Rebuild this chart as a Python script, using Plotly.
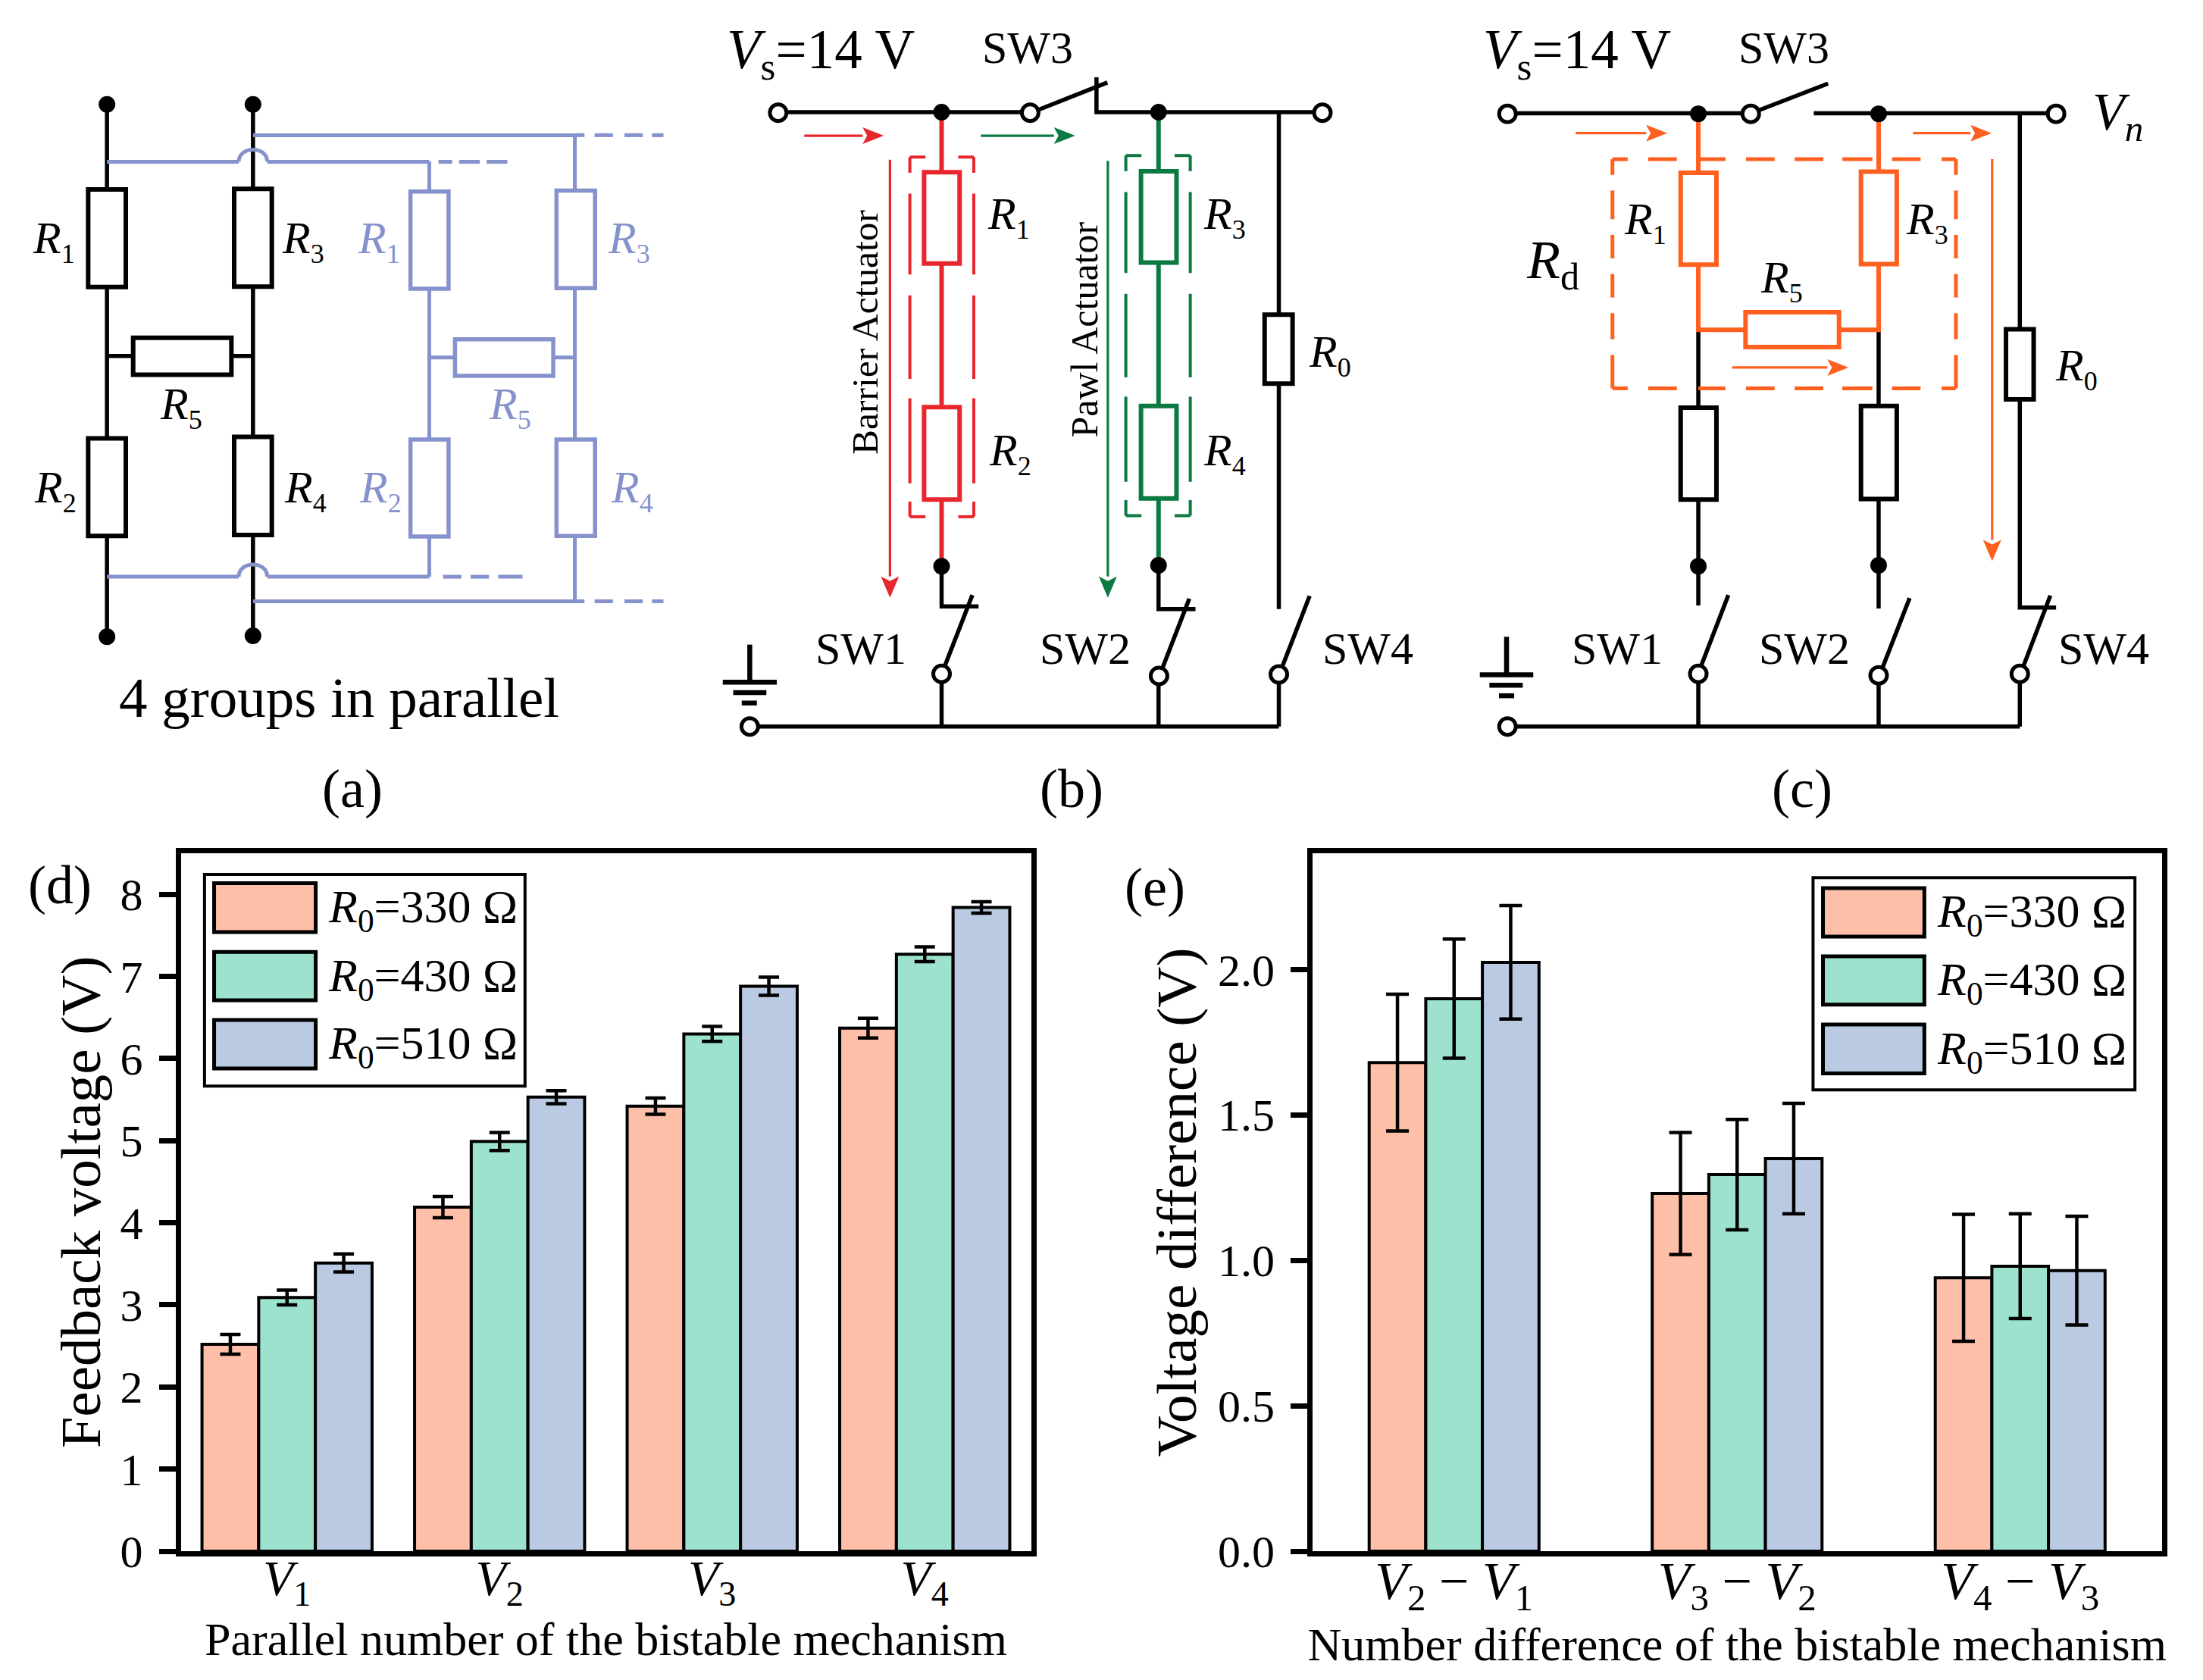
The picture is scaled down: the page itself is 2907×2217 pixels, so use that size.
import plotly.graph_objects as go

W, H = 2907, 2217
FONT = "Liberation Serif"
BLK, BLUE, RED, GRN, ORG = "#000000", "#8592CC", "#E8262D", "#0A7A42", "#FF6020"

# ---------- chart data ----------
series_names = ["R0=330 Ω", "R0=430 Ω", "R0=510 Ω"]
series_labels = ["<i>R</i><sub>0</sub>=330 Ω", "<i>R</i><sub>0</sub>=430 Ω", "<i>R</i><sub>0</sub>=510 Ω"]
colors = ["#FEBFA8", "#9CE2CF", "#BBCAE3"]

cats_d = ["V1", "V2", "V3", "V4"]
ticks_d = ["<i>V</i><sub>1</sub>", "<i>V</i><sub>2</sub>", "<i>V</i><sub>3</sub>", "<i>V</i><sub>4</sub>"]
d_330 = [2.52, 4.19, 5.42, 6.37]
d_430 = [3.09, 4.99, 6.30, 7.27]
d_510 = [3.51, 5.53, 6.88, 7.84]
d_330_err = [0.12, 0.13, 0.10, 0.12]
d_430_err = [0.09, 0.11, 0.09, 0.09]
d_510_err = [0.11, 0.08, 0.11, 0.07]

cats_e = ["V2-V1", "V3-V2", "V4-V3"]
ticks_e = ["<i>V</i><sub>2</sub>\u00a0−\u00a0<i>V</i><sub>1</sub>", "<i>V</i><sub>3</sub>\u00a0−\u00a0<i>V</i><sub>2</sub>", "<i>V</i><sub>4</sub>\u00a0−\u00a0<i>V</i><sub>3</sub>"]
e_330 = [1.68, 1.23, 0.94]
e_430 = [1.90, 1.295, 0.98]
e_510 = [2.025, 1.35, 0.965]
e_330_err = [0.235, 0.21, 0.218]
e_430_err = [0.205, 0.19, 0.18]
e_510_err = [0.195, 0.19, 0.187]

# ---------- panel geometry (pixels) ----------
D_BOX = (238.5, 1126, 1360.5, 2047)
E_BOX = (1732, 1126, 2852.5, 2047)
E_WIDTH = 0.2
E_OFFSETS = [-0.3, -0.1, 0.1]

def xdom(b): return [b[0] / W, b[2] / W]
def ydom(b): return [1 - b[3] / H, 1 - b[1] / H]

fig = go.Figure()
for vals, errs, name, col in zip([d_330, d_430, d_510], [d_330_err, d_430_err, d_510_err], series_names, colors):
    fig.add_bar(x=cats_d, y=vals, name=name, marker=dict(color=col, line=dict(color=BLK, width=4)),
                error_y=dict(type="data", array=errs, color=BLK, thickness=4.5, width=13.5), xaxis="x", yaxis="y",
                showlegend=False)
for vals, errs, name, col, off in zip([e_330, e_430, e_510], [e_330_err, e_430_err, e_510_err], series_names, colors, E_OFFSETS):
    fig.add_bar(x=cats_e, y=vals, name=name, marker=dict(color=col, line=dict(color=BLK, width=4)),
                width=E_WIDTH, offset=off,
                error_y=dict(type="data", array=errs, color=BLK, thickness=4.5, width=15), xaxis="x2", yaxis="y2",
                showlegend=False)

shapes, annos = [], []
def X(x): return x / W
def Y(y): return 1 - y / H

# transforms from working coordinates of each panel to pixels
Z = 1568
TR = {
    "a": (0, 950 / Z, 0, 1080 / Z),
    "b": (930, 980 / Z, 0, 1080 / Z),
    "c": (1920, 987 / Z, 0, 1080 / Z),
    "d": (0, 1420 / Z, 1080, 1137 / Z),
    "e": (1440, 1467 / Z, 1080, 1137 / Z),
}
def T(p, x, y):
    ox, sx, oy, sy = TR[p]
    return ox + x * sx, oy + y * sy

def wire(p, pts, color=BLK, w=5.5):
    q = [T(p, *a) for a in pts]
    path = "M " + " L ".join(f"{X(a):.5f},{Y(b):.5f}" for a, b in q)
    shapes.append(dict(type="path", path=path, xref="paper", yref="paper", line=dict(color=color, width=w)))

def rect(p, x0, y0, x1, y1, color=BLK, w=6):
    a, b = T(p, x0, y0); c, d = T(p, x1, y1)
    shapes.append(dict(type="rect", x0=X(a), x1=X(c), y0=Y(b), y1=Y(d), xref="paper", yref="paper",
                       line=dict(color=color, width=w), fillcolor="white"))

def fillrect(p, x0, y0, x1, y1, fill, w=5, color=BLK):
    a, b = T(p, x0, y0); c, d = T(p, x1, y1)
    shapes.append(dict(type="rect", x0=X(a), x1=X(c), y0=Y(b), y1=Y(d), xref="paper", yref="paper",
                       line=dict(color=color, width=w), fillcolor=fill))

def circ(p, x, y, r, fill, w=0, color=BLK):
    a, b = T(p, x, y)
    shapes.append(dict(type="circle", x0=X(a - r), x1=X(a + r), y0=Y(b - r), y1=Y(b + r), xref="paper", yref="paper",
                       line=dict(color=color, width=w), fillcolor=fill))

def dot(p, x, y): circ(p, x, y, 11, BLK)
def ring(p, x, y): circ(p, x, y, 11, "white", 5)

def arc(p, x0, x1, y, top, color=BLUE, w=5):
    a, b = T(p, x0, y); c, _ = T(p, x1, y); _, t = T(p, x0, top)
    path = f"M {X(a):.5f},{Y(b):.5f} C {X(a):.5f},{Y(t):.5f} {X(c):.5f},{Y(t):.5f} {X(c):.5f},{Y(b):.5f}"
    shapes.append(dict(type="path", path=path, xref="paper", yref="paper", line=dict(color=color, width=w)))

def arrow(p, x0, y0, x1, y1, color, w=3.2, hl=28, hw=11):
    a, b = T(p, x0, y0); c, d = T(p, x1, y1)
    L = ((c - a) ** 2 + (d - b) ** 2) ** 0.5
    ux, uy = (c - a) / L, (d - b) / L
    bx, by = c - ux * hl, d - uy * hl
    shapes.append(dict(type="path", xref="paper", yref="paper", line=dict(color=color, width=w),
                       path=f"M {X(a):.5f},{Y(b):.5f} L {X(bx):.5f},{Y(by):.5f}"))
    pts = [(c, d), (bx - uy * hw, by + ux * hw), (bx + ux * 6, by + uy * 6), (bx + uy * hw, by - ux * hw)]
    shapes.append(dict(type="path", xref="paper", yref="paper", line=dict(color=color, width=0), fillcolor=color,
                       path="M " + " L ".join(f"{X(u):.5f},{Y(v):.5f}" for u, v in pts) + " Z"))

def text(p, x, y, s, size=60, color=BLK, angle=0, anchor="center"):
    a, b = T(p, x, y)
    annos.append(dict(x=X(a), y=Y(b), xref="paper", yref="paper", text=s, showarrow=False, textangle=angle,
                      xanchor=anchor, yanchor="middle", font=dict(family=FONT, size=size, color=color)))

def R(i): return f"<i>R</i><sub><span style=\"font-size:36px\">{i}</span></sub>"
VS = "<i>V</i><sub>s</sub>=14 V"

# ---------- panel (a) ----------
for xx, rs in ((233, [(363, 550), (840, 1027)]), (551, [(362, 549), (837, 1025)])):
    wire("a", [(xx, 200), (xx, 1220)])
    for y0, y1 in rs:
        rect("a", xx - 41, y0, xx + 41, y1)
wire("a", [(233, 682), (551, 682)])
rect("a", 290, 647, 504, 718)
for xx, yy in ((233, 200), (551, 200), (233, 1220), (551, 1218)):
    dot("a", xx, yy)
wire("a", [(233, 310), (520, 310)], BLUE, 5); arc("a", 520, 582, 310, 279)
wire("a", [(582, 310), (935, 310)], BLUE, 5)
wire("a", [(233, 1105), (520, 1105)], BLUE, 5); arc("a", 520, 582, 1105, 1074)
wire("a", [(582, 1105), (935, 1105)], BLUE, 5)
wire("a", [(935, 310), (935, 1105)], BLUE, 5)
wire("a", [(551, 259), (1252, 259), (1252, 1152), (551, 1152)], BLUE, 5)
wire("a", [(935, 685), (1252, 685)], BLUE, 5)
for seg in ((955, 985), (1000, 1045), (1060, 1105)):
    wire("a", [(seg[0], 310), (seg[1], 310)], BLUE, 5)
for seg in ((965, 1005), (1025, 1065), (1085, 1138)):
    wire("a", [(seg[0], 1105), (seg[1], 1105)], BLUE, 5)
for yy in (259, 1152):
    for seg in ((1252, 1273), (1295, 1335), (1360, 1400), (1420, 1445)):
        wire("a", [(seg[0], yy), (seg[1], yy)], BLUE, 5)
for x0, x1, y0, y1 in ((894, 977, 367, 553), (894, 977, 842, 1028), (1212, 1296, 365, 552), (1212, 1296, 842, 1027), (991, 1205, 650, 720)):
    rect("a", x0, y0, x1, y1, BLUE, 5.5)
for i, xx, yy in ((1, 118, 462), (3, 660, 462), (5, 395, 780), (2, 120, 940), (4, 665, 940)):
    text("a", xx, yy, R(i))
for i, xx, yy in ((1, 826, 462), (3, 1370, 462), (5, 1110, 780), (2, 828, 940), (4, 1376, 940)):
    text("a", xx, yy, R(i), color=BLUE)
text("a", 738, 1337, "4 groups in parallel", 75)
text("a", 768, 1512, "(a)", 72)

# ---------- panel (b) ----------
wire("b", [(155, 215), (688, 215)])
wire("b", [(700, 212), (850, 158)])
wire("b", [(827, 148), (827, 215), (1305, 215)])
wire("b", [(500, 215), (500, 1085)], RED, 6)
rect("b", 463, 330, 538, 505, RED); rect("b", 463, 780, 538, 957, RED)
wire("b", [(958, 215), (958, 1083)], GRN, 6)
rect("b", 921, 328, 996, 503, GRN); rect("b", 921, 778, 996, 955, GRN)
wire("b", [(500, 1085), (500, 1162), (578, 1162)])
wire("b", [(565, 1140), (505, 1280)])
wire("b", [(500, 1291), (500, 1392)])
wire("b", [(958, 1083), (958, 1167), (1036, 1167)])
wire("b", [(1023, 1147), (965, 1283)])
wire("b", [(958, 1295), (958, 1392)])
wire("b", [(1212, 215), (1212, 1167)])
rect("b", 1182, 603, 1241, 735)
wire("b", [(1277, 1142), (1218, 1280)])
wire("b", [(1212, 1292), (1212, 1392)])
wire("b", [(95, 1392), (1212, 1392)])
wire("b", [(95, 1235), (95, 1305)], BLK, 6.5)
wire("b", [(38, 1307), (152, 1307)], BLK, 6.5)
wire("b", [(60, 1327), (130, 1327)], BLK, 6.5)
wire("b", [(78, 1347), (110, 1347)], BLK, 6.5)
for xx, yy in ((500, 215), (958, 215), (500, 1085), (958, 1083)):
    dot("b", xx, yy)
for xx, yy in ((155, 216), (687, 216), (1304, 216), (500, 1291), (959, 1295), (1212, 1292), (95, 1392)):
    ring("b", xx, yy)
for xl, xr, yt, yb, col in ((433, 568, 301, 990, RED), (889, 1025, 298, 988, GRN)):
    for a0, a1, yy in ((xl, xl + 33, yt), (xr - 33, xr, yt), (xl, xl + 33, yb), (xr - 33, xr, yb)):
        wire("b", [(a0, yy), (a1, yy)], col, 4)
    for xx in (xl, xr):
        for s0, s1 in ((yt, yt + 30), (yt + 70, yt + 225), (yt + 265, yt + 425), (yt + 462, yt + 625), (yt + 660, yb)):
            wire("b", [(xx, s0), (xx, s1)], col, 4)
arrow("b", 210, 260, 378, 260, RED)
arrow("b", 583, 260, 782, 260, GRN)
arrow("b", 391, 306, 391, 1145, RED, hw=12)
arrow("b", 851, 308, 851, 1145, GRN, hw=12)
text("b", 338, 637, "Barrier Actuator", 49.5, angle=-90)
text("b", 802, 632, "Pawl Actuator", 50, angle=-90)
for i, xx, yy in ((1, 642, 415), (2, 645, 868), (3, 1098, 415), (4, 1098, 868), (0, 1320, 680)):
    text("b", xx, yy, R(i))
for s, xx, yy in (("SW3", 682, 92), ("SW1", 330, 1243), ("SW2", 803, 1243), ("SW4", 1400, 1243)):
    text("b", xx, yy, s)
text("b", 245, 102, VS, 73)
text("b", 775, 1512, "(b)", 72)

# ---------- panel (c) ----------
wire("c", [(110, 217), (620, 217)])
wire("c", [(635, 212), (782, 160)])
wire("c", [(752, 217), (1260, 217)])
wire("c", [(510, 632), (510, 1160)])
wire("c", [(888, 632), (888, 1166)])
wire("c", [(510, 218), (510, 632), (888, 632), (888, 218)], ORG, 6)
rect("c", 473, 331, 548, 507, ORG); rect("c", 851, 329, 926, 506, ORG); rect("c", 609, 598, 805, 665, ORG)
rect("c", 473, 781, 548, 957); rect("c", 851, 778, 926, 956)
wire("c", [(573, 1140), (515, 1278)]); wire("c", [(510, 1291), (510, 1392)])
wire("c", [(953, 1146), (895, 1282)]); wire("c", [(888, 1294), (888, 1392)])
wire("c", [(1184, 217), (1184, 1164), (1260, 1164)])
rect("c", 1155, 631, 1213, 765)
wire("c", [(1248, 1141), (1190, 1280)]); wire("c", [(1184, 1291), (1184, 1392)])
wire("c", [(110, 1392), (1184, 1392)])
wire("c", [(108, 1220), (108, 1293)], BLK, 6.5)
wire("c", [(52, 1293), (164, 1293)], BLK, 6.5)
wire("c", [(72, 1313), (142, 1313)], BLK, 6.5)
wire("c", [(92, 1333), (124, 1333)], BLK, 6.5)
for xx, yy in ((510, 218), (888, 218), (510, 1085), (888, 1083)):
    dot("c", xx, yy)
for xx, yy in ((110, 218), (620, 218), (1260, 218), (510, 1291), (888, 1294), (1184, 1291), (110, 1392)):
    ring("c", xx, yy)
for yy in (305, 744):
    for s0, s1 in ((330, 362), (405, 465), (510, 567), (610, 670), (712, 772), (812, 875), (916, 976), (1020, 1050)):
        wire("c", [(s0, yy), (s1, yy)], ORG, 5)
for xx in (330, 1050):
    for s0, s1 in ((305, 335), (365, 420), (450, 495), (525, 570), (600, 650), (680, 744)):
        wire("c", [(xx, s0), (xx, s1)], ORG, 5)
arrow("c", 253, 255, 445, 255, ORG)
arrow("c", 960, 255, 1125, 255, ORG)
arrow("c", 581, 704, 825, 704, ORG)
arrow("c", 1126, 305, 1126, 1075, ORG, hw=12)
for i, xx, yy in ((1, 398, 425), (3, 990, 425), (5, 685, 537), (0, 1302, 705)):
    text("c", xx, yy, R(i))
text("c", 205, 505, "<i>R</i><sub>d</sub>", 72)
text("c", 1390, 222, "<i>V</i><sub><i>n</i></sub>", 70)
for s, xx, yy in (("SW3", 690, 92), ("SW1", 340, 1243), ("SW2", 733, 1243), ("SW4", 1360, 1243)):
    text("c", xx, yy, s)
text("c", 255, 102, VS, 73)
text("c", 727, 1512, "(c)", 72)

# ---------- legends and panel letters ----------
def legend(p, box, swx0, swx1, rows, tx):
    fillrect(p, *box, "white", w=4)
    for (y0, y1), col, lab in zip(rows, colors, series_labels):
        fillrect(p, swx0, y0, swx1, y1, col, w=5)
        text(p, tx, (y0 + y1) / 2 + 4, lab, 62, anchor="left")
legend("d", (298, 102, 765, 487), 312, 460, [(118, 207), (243, 331), (367, 455)], 476)
legend("e", (1018, 108, 1472, 494), 1032, 1175, [(127, 215), (251, 339), (375, 464)], 1191)
text("d", 87, 121, "(d)", 72)
text("e", 90, 126, "(e)", 72)

def ax_common(tick_size):
    return dict(showline=True, linecolor=BLK, linewidth=7, mirror=True, showgrid=False, zeroline=False,
                automargin=False, tickfont=dict(family=FONT, size=tick_size, color=BLK))

fig.update_layout(
    width=W, height=H, margin=dict(l=0, r=0, t=0, b=0), autosize=False,
    paper_bgcolor="white", plot_bgcolor="white", barmode="group", bargroupgap=0, bargap=0.2,
    showlegend=False, shapes=shapes, annotations=annos, font=dict(family=FONT, color=BLK),
    xaxis=dict(domain=xdom(D_BOX), anchor="y", range=[-0.5, 3.5], type="category", tickmode="array",
               tickvals=cats_d, ticktext=ticks_d, ticks="", ticklabelstandoff=-28,
               title=dict(text="Parallel number of the bistable mechanism", font=dict(size=62, family=FONT)),
               **ax_common(66)),
    yaxis=dict(domain=ydom(D_BOX), anchor="x", range=[0, 8.5], tickmode="array", tickvals=list(range(9)), ticks="outside",
               ticklen=22, tickwidth=7, tickcolor=BLK, ticklabelstandoff=9,
               title=dict(text="Feedback voltage (V)", font=dict(size=75, family=FONT), standoff=4), **ax_common(60)),
    xaxis2=dict(domain=xdom(E_BOX), anchor="y2", range=[-0.5, 2.5], type="category", tickmode="array",
                tickvals=cats_e, ticktext=ticks_e, ticks="", ticklabelstandoff=-28,
                title=dict(text="Number difference of the bistable mechanism", font=dict(size=62, family=FONT)),
                **ax_common(70)),
    yaxis2=dict(domain=ydom(E_BOX), anchor="x2", range=[0, 2.4], tickmode="array", tickvals=[0, 0.5, 1, 1.5, 2],
                ticktext=["0.0", "0.5", "1.0", "1.5", "2.0"], ticks="outside", ticklen=22, tickwidth=7, tickcolor=BLK,
                ticklabelstandoff=9,
                title=dict(text="Voltage difference (V)", font=dict(size=75, family=FONT), standoff=6), **ax_common(60)),
)
fig.write_html("out.html", config={"displayModeBar": False},
               post_script="document.body.style.margin='0';document.body.style.overflow='hidden';")
